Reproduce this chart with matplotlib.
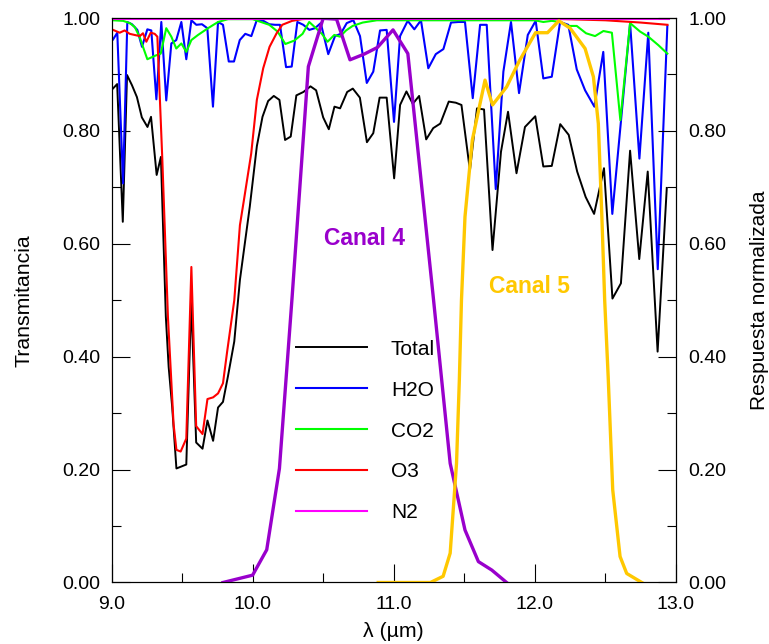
import matplotlib
matplotlib.use("Agg")
import matplotlib.pyplot as plt
from matplotlib.ticker import MultipleLocator, FormatStrFormatter

plt.rcParams['font.family'] = ['Liberation Sans', 'DejaVu Sans']

# ---- data (wavelength in micrometres) ----
total_x = [9.01, 9.04, 9.08, 9.11, 9.145, 9.18, 9.215, 9.255, 9.28, 9.32, 9.35, 9.385, 9.405, 9.43,
           9.46, 9.53, 9.565, 9.60, 9.645, 9.68, 9.72, 9.755, 9.79, 9.825, 9.87, 9.91, 9.945, 9.98,
           10.03, 10.07, 10.11, 10.15, 10.19, 10.23, 10.27, 10.31, 10.36, 10.41, 10.45, 10.50, 10.54,
           10.58, 10.62, 10.67, 10.71, 10.76, 10.81, 10.855, 10.90, 10.95, 11.003, 11.045, 11.09,
           11.135, 11.18, 11.23, 11.28, 11.33, 11.39, 11.44, 11.48, 11.54, 11.59, 11.64, 11.70, 11.76,
           11.81, 11.87, 11.93, 12.003, 12.06, 12.12, 12.18, 12.24, 12.30, 12.36, 12.42, 12.49, 12.55,
           12.61, 12.675, 12.74, 12.80, 12.87, 12.935]
total_y = [0.875, 0.883, 0.639, 0.899, 0.881, 0.860, 0.824, 0.807, 0.825, 0.722, 0.754, 0.471, 0.382, 0.311,
           0.202, 0.209, 0.500, 0.248, 0.237, 0.287, 0.251, 0.310, 0.320, 0.365, 0.427, 0.536, 0.601, 0.666,
           0.773, 0.825, 0.853, 0.862, 0.855, 0.784, 0.790, 0.863, 0.869, 0.879, 0.872, 0.824, 0.803,
           0.843, 0.840, 0.869, 0.875, 0.859, 0.780, 0.796, 0.859, 0.859, 0.716, 0.846, 0.870,
           0.848, 0.862, 0.785, 0.805, 0.813, 0.852, 0.850, 0.846, 0.730, 0.840, 0.838, 0.589, 0.763,
           0.834, 0.725, 0.807, 0.826, 0.737, 0.738, 0.812, 0.793, 0.728, 0.683, 0.653, 0.734, 0.503,
           0.530, 0.765, 0.573, 0.728, 0.409, 0.699]

h2o_x = [9.011, 9.041, 9.082, 9.112, 9.145, 9.183, 9.216, 9.254, 9.282, 9.318, 9.353, 9.388, 9.424, 9.459,
         9.495, 9.530, 9.566, 9.601, 9.641, 9.679, 9.719, 9.755, 9.790, 9.831, 9.868, 9.909, 9.948, 9.991,
         10.029, 10.076, 10.118, 10.159, 10.194, 10.237, 10.277, 10.317, 10.359, 10.402, 10.442, 10.483,
         10.536, 10.584, 10.624, 10.667, 10.714, 10.761, 10.809, 10.855, 10.903, 10.950, 11.002, 11.045,
         11.099, 11.146, 11.193, 11.245, 11.298, 11.352, 11.406, 11.458, 11.505, 11.560, 11.612, 11.659,
         11.723, 11.777, 11.831, 11.888, 11.950, 12.006, 12.060, 12.120, 12.179, 12.237, 12.297, 12.356,
         12.422, 12.485, 12.549, 12.675, 12.741, 12.804, 12.871, 12.939]
h2o_y = [0.962, 0.974, 0.707, 0.993, 0.989, 0.979, 0.949, 0.980, 0.978, 0.856, 0.993, 0.854, 0.955, 0.961,
         0.993, 0.927, 0.996, 0.988, 0.989, 0.982, 0.843, 0.993, 0.988, 0.923, 0.923, 0.961, 0.972, 0.968,
         0.996, 0.995, 0.989, 0.988, 0.988, 0.913, 0.914, 0.993, 0.988, 0.979, 0.982, 0.991,
         0.936, 0.968, 0.972, 0.991, 0.996, 0.968, 0.885, 0.905, 0.978, 0.979, 0.816, 0.968,
         0.995, 0.980, 0.996, 0.911, 0.936, 0.945, 0.992, 0.993, 0.993, 0.858, 0.988, 0.988,
         0.697, 0.905, 0.993, 0.867, 0.970, 0.995, 0.893, 0.896, 0.993, 0.988, 0.909, 0.872,
         0.843, 0.940, 0.653, 0.991, 0.751, 0.974, 0.555, 0.986]

co2_x = [9.011, 9.082, 9.13, 9.165, 9.20, 9.23, 9.254, 9.307, 9.349, 9.388, 9.424, 9.459, 9.495, 9.530,
         9.566, 9.613, 9.684, 9.755, 9.826, 10.0, 10.118, 10.177, 10.232, 10.295, 10.354, 10.401, 10.449,
         10.491, 10.531, 10.579, 10.619, 10.662, 10.709, 10.780, 10.88, 12.0, 12.06, 12.12, 12.179,
         12.237, 12.297, 12.363, 12.427, 12.486, 12.546, 12.606, 12.675, 12.746, 12.804, 12.875, 12.939]
co2_y = [0.996, 0.995, 0.991, 0.984, 0.966, 0.944, 0.927, 0.933, 0.937, 0.982, 0.967, 0.946, 0.955, 0.940,
         0.961, 0.970, 0.982, 0.993, 0.998, 0.998, 0.988, 0.976, 0.954, 0.960, 0.972, 0.993, 0.982,
         0.972, 0.958, 0.970, 0.967, 0.978, 0.986, 0.992, 0.996, 0.996, 0.993, 0.995, 0.993,
         0.986, 0.986, 0.973, 0.968, 0.977, 0.974, 0.819, 0.991, 0.976, 0.967, 0.952, 0.937]

o3_x = [9.011, 9.058, 9.093, 9.129, 9.164, 9.20, 9.223, 9.247, 9.278, 9.306, 9.325, 9.36, 9.40, 9.44,
        9.46, 9.49, 9.53, 9.566, 9.60, 9.645, 9.68, 9.72, 9.755, 9.79, 9.82, 9.87, 9.91, 9.94, 9.99,
        10.03, 10.075, 10.12, 10.17, 10.21, 10.28, 10.35, 10.5, 12.0, 12.5, 12.75, 12.94]
o3_y = [0.979, 0.974, 0.978, 0.972, 0.970, 0.968, 0.973, 0.958, 0.974, 0.972, 0.967, 0.75, 0.47, 0.28,
        0.235, 0.232, 0.255, 0.559, 0.277, 0.263, 0.325, 0.328, 0.335, 0.353, 0.41, 0.50, 0.633, 0.68, 0.76,
        0.855, 0.911, 0.949, 0.973, 0.988, 0.995, 0.998, 1.0, 0.9995, 0.996, 0.992, 0.988]

n2_x = [9.0, 12.95]
n2_y = [0.999, 0.999]

canal4_x = [9.79, 10.00, 10.10, 10.19, 10.28, 10.395, 10.50, 10.595, 10.69, 10.79, 10.885, 10.995,
            11.10, 11.28, 11.40, 11.505, 11.60, 11.695, 11.80]
canal4_y = [0.000, 0.013, 0.058, 0.202, 0.506, 0.914, 0.9995, 0.998, 0.926, 0.936, 0.948, 0.979,
            0.937, 0.506, 0.211, 0.093, 0.037, 0.022, 0.000]

canal5_x = [10.89, 11.26, 11.35, 11.40, 11.445, 11.465, 11.48, 11.505, 11.557, 11.647, 11.70, 11.80,
            11.89, 12.005, 12.09, 12.17, 12.25, 12.356, 12.415, 12.45, 12.475, 12.495, 12.52, 12.552,
            12.604, 12.651, 12.758]
canal5_y = [0.000, 0.000, 0.011, 0.052, 0.211, 0.359, 0.50, 0.648, 0.784, 0.890, 0.846, 0.878,
            0.924, 0.974, 0.974, 0.995, 0.982, 0.946, 0.896, 0.813, 0.648, 0.50, 0.363, 0.164,
            0.046, 0.016, 0.000]

# ---- figure ----
fig = plt.figure(figsize=(7.69, 6.44), dpi=100)
ax = fig.add_axes([0.145, 0.0955, 0.734, 0.8765])

ax.plot(total_x, total_y, color='black', lw=1.4, label='Total')
ax.plot(h2o_x, h2o_y, color='#0000FF', lw=1.5, label='H2O')
ax.plot(co2_x, co2_y, color='#00FF00', lw=1.5, label='CO2')
ax.plot(o3_x, o3_y, color='#FF0000', lw=1.5, label='O3')
ax.plot(n2_x, n2_y, color='#FF00FF', lw=1.5, label='N2')

ax.set_xlim(9.0, 13.0)
ax.set_ylim(0.0, 1.0)

ax2 = ax.twinx()
ax2.set_ylim(0.0, 1.0)
ax2.plot(canal4_x, canal4_y, color='#9900CC', lw=2.4)
ax2.plot(canal5_x, canal5_y, color='#FFC800', lw=2.4)

ax2.text(10.79, 0.609, 'Canal 4', color='#9900CC', fontsize=16.5, fontweight='bold',
         ha='center', va='center')
ax2.text(11.962, 0.524, 'Canal 5', color='#FFC800', fontsize=16.5, fontweight='bold',
         ha='center', va='center')

for a in (ax, ax2):
    a.yaxis.set_major_locator(MultipleLocator(0.2))
    a.yaxis.set_minor_locator(MultipleLocator(0.1))
    a.yaxis.set_major_formatter(FormatStrFormatter('%.2f'))
ax.xaxis.set_major_locator(MultipleLocator(1.0))
ax.xaxis.set_minor_locator(MultipleLocator(0.5))
ax.xaxis.set_major_formatter(FormatStrFormatter('%.1f'))

ax.tick_params(axis='y', which='major', direction='in', length=13, width=0.8,
               labelsize=14, pad=8, right=False)
ax.tick_params(axis='x', which='major', direction='in', length=13, width=0.8,
               labelsize=14, pad=10, top=False)
ax.tick_params(axis='both', which='minor', direction='in', length=6.5, width=0.8,
               top=False, right=False)
ax2.tick_params(axis='y', which='major', direction='in', length=13, width=0.8,
                labelsize=14, pad=9)
ax2.tick_params(axis='y', which='minor', direction='in', length=6.5, width=0.8)

for a in (ax, ax2):
    for s in a.spines.values():
        s.set_linewidth(0.8)

ax.set_ylabel('Transmitancia', fontsize=15.3, labelpad=21)
ax2.set_ylabel('Respuesta normalizada', fontsize=15.0, labelpad=17)
ax.set_xlabel('λ (µm)', fontsize=15.3, labelpad=6)

ax.legend(loc='upper left', bbox_to_anchor=(0.327, 0.43), frameon=False, fontsize=15,
          handlelength=3.4, handletextpad=1.15, labelspacing=1.05, borderpad=0, borderaxespad=0)

fig.savefig('out.png', dpi=100)
